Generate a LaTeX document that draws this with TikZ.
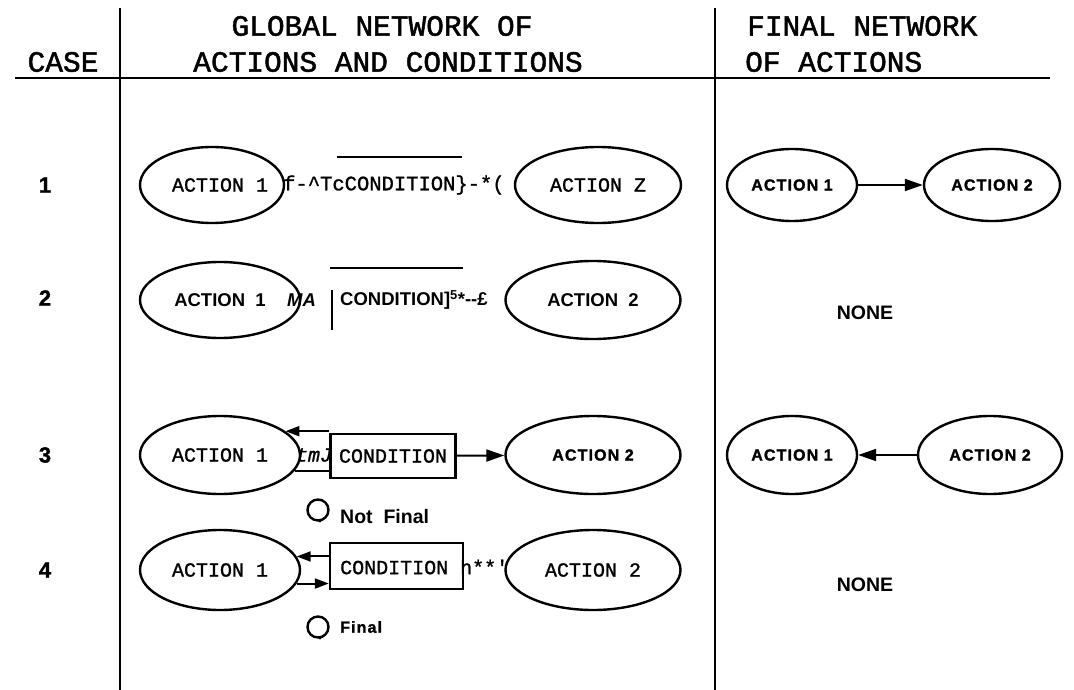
\documentclass[tikz,border=0pt]{standalone}
\usepackage{fontspec}
\setmainfont{Liberation Sans}
\newfontfamily\twfont[FakeBold=1.2]{Liberation Mono}
\newfontfamily\hdfont[FakeBold=1.6]{Liberation Mono}
\newfontfamily\dotfont[LetterSpace=7,FakeBold=1.5]{Liberation Sans}
\usetikzlibrary{shapes.geometric,arrows.meta}
\tikzset{
  hd/.style={font=\hdfont\fontsize{29.5}{31}\selectfont, inner sep=0pt},
  tw/.style={font=\twfont\fontsize{20}{22}\selectfont, inner sep=0pt},
  twl/.style={font=\twfont\fontsize{20.5}{22}\selectfont, inner sep=0pt},
  sfb/.style={font=\bfseries\fontsize{18.5}{20}\selectfont, inner sep=0pt},
  dotb/.style={font=\dotfont\bfseries\fontsize{16}{18}\selectfont, inner sep=0pt},
  num/.style={font=\dotfont\bfseries\fontsize{22}{24}\selectfont, inner sep=0pt},
  ell/.style={ellipse, draw, line width=2.4pt, inner sep=0pt},
  condbox/.style={rectangle, draw, line width=2.4pt, inner sep=0pt},
  loopmark/.style={circle, draw, line width=2.4pt, minimum size=21, inner sep=0pt},
  rule/.style={line width=2.5pt},
  link/.style={line width=2pt},
  arr/.style={line width=2pt, -{Triangle[length=18pt,width=12pt]}},
  sarr/.style={line width=2pt, -{Triangle[length=14pt,width=10pt]}},
}
\begin{document}
\begin{tikzpicture}[x=1pt,y=-1pt]
\useasboundingbox (0,0) rectangle (1074,690);

% column rules
\coordinate (v1t) at (120,8);   \coordinate (v1b) at (120,690);
\coordinate (v2t) at (715,8);   \coordinate (v2b) at (715,690);
\coordinate (hl) at (15,78);    \coordinate (hr) at (1050,78);
\draw[rule] (v1t) -- (v1b);
\draw[rule] (v2t) -- (v2b);
\draw[rule] (hl) -- (hr);

% headings
\node[hd] (hcase) at (63,62) {CASE};
\node[hd] (hg1) at (382,26) {GLOBAL NETWORK OF};
\node[hd] (hg2) at (388,62) {ACTIONS AND CONDITIONS};
\node[hd, anchor=west] (hf1) at (747,26) {FINAL NETWORK};
\node[hd, anchor=west] (hf2) at (745,62) {OF ACTIONS};

% case numbers
\node[num] (n1) at (45,185) {1};
\node[num] (n2) at (45,298) {2};
\node[num] (n3) at (45,455) {3};
\node[num] (n4) at (45,570) {4};

% ---- case 1
\node[ell, minimum width=144, minimum height=76] (e11) at (212,185) {};
\node[tw] (a11) at (220,185) {ACTION 1};
\node[twl, anchor=west] (t11) at (283,185) {f-\textasciicircum TcCONDITION\}-*(};
\coordinate (o1a) at (337,157); \coordinate (o1b) at (462,157);
\draw[rule] (o1a) -- (o1b);
\node[ell, minimum width=166, minimum height=76, tw] (e12) at (598,185) {ACTION Z};

\node[ell, minimum width=130, minimum height=72, dotb] (f11) at (792,185) {ACTION 1};
\node[ell, minimum width=136, minimum height=72, dotb] (f12) at (992,185) {ACTION 2};
\draw[arr] (f11) -- (f12);

% ---- case 2
\node[ell, minimum width=160, minimum height=76, sfb] (e21) at (220,300) {ACTION\ \ 1};
\node[sfb, anchor=west, font=\bfseries\itshape\fontsize{18.5}{20}\selectfont] (t21) at (287,300) {MA};
\node[sfb, anchor=west] (t22) at (340,300) {CONDITION]\textsuperscript{5}*-{}-£};
\coordinate (b2a) at (330,268); \coordinate (b2b) at (463,268);
\coordinate (b2c) at (332,290); \coordinate (b2d) at (332,330);
\draw[rule] (b2a) -- (b2b);
\draw[rule] (b2c) -- (b2d);
\node[ell, minimum width=175, minimum height=78, sfb] (e22) at (593,300) {ACTION\ \ 2};

\node[sfb, font=\bfseries\fontsize{19.5}{21}\selectfont] (none2) at (865,313) {NONE};

% ---- case 3
\node[ell, minimum width=160, minimum height=78, tw] (e31) at (220,455) {ACTION 1};
\node[condbox, minimum width=125, minimum height=44, tw] (c3) at (393,456) {CONDITION};
\node[ell, minimum width=175, minimum height=78, dotb] (e32) at (593,455) {ACTION 2};
\draw[sarr] (c3.west |- e31.20) -- (e31.20);
\draw[link] (e31.-12) -- (c3.west |- e31.-12);
\node[tw, font=\twfont\itshape\fontsize{20}{22}\selectfont] (tm3) at (314,455) {tmJ};
\draw[arr] (c3) -- (e32);
\node[loopmark] (l3) at (318,510) {};
\fill (l3.south) ++(-1,-2) -- ++(6,0) -- ++(-3,3) -- cycle;
\node[sfb, anchor=west, font=\bfseries\fontsize{19.5}{21}\selectfont] (nf3) at (340,517) {Not\ \ Final};

\node[ell, minimum width=130, minimum height=78, dotb] (f31) at (792,455) {ACTION 1};
\node[ell, minimum width=144, minimum height=78, dotb] (f32) at (990,455) {ACTION 2};
\draw[arr] (f32) -- (f31);

% ---- case 4
\node[ell, minimum width=160, minimum height=80, tw] (e41) at (220,570) {ACTION 1};
\node[condbox, minimum width=133, minimum height=46] (c4) at (396.5,566) {};
\node[tw, anchor=west] (t4) at (340,567) {CONDITION h**\textquotesingle};
\node[ell, minimum width=175, minimum height=80, tw] (e42) at (593,570) {ACTION 2};
\draw[sarr] (c4.west |- e41.10) -- (e41.10);
\draw[sarr] (e41.-10) -- (c4.west |- e41.-10);
\node[loopmark] (l4) at (318,627) {};
\fill (l4.south) ++(-1,-2) -- ++(6,0) -- ++(-3,3) -- cycle;
\node[dotb, anchor=west] (nf4) at (340,627) {Final};

\node[sfb, font=\bfseries\fontsize{19.5}{21}\selectfont] (none4) at (865,585) {NONE};
\end{tikzpicture}
\end{document}
